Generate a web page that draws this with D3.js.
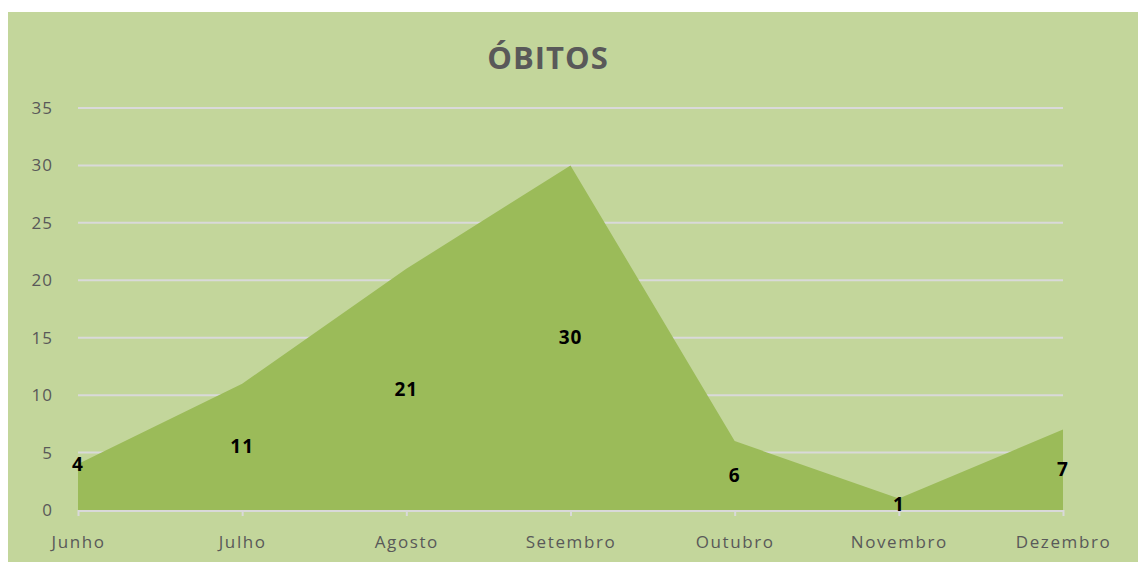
<!DOCTYPE html>
<html>
<head>
<meta charset="utf-8">
<script src="https://cdn.jsdelivr.net/npm/d3@7"></script>
<style>
  body { margin: 0; background: #ffffff; }
  text { font-family: "Open Sans", "Noto Sans", sans-serif; }
</style>
</head>
<body>
<div id="chart"></div>
<script>
const width = 1138;
const height = 563;
const margin = { top: 108, right: 75, bottom: 53, left: 78 };

const months = ["Junho", "Julho", "Agosto", "Setembro", "Outubro", "Novembro", "Dezembro"];
const obitos = [4, 11, 21, 30, 6, 1, 7];
const yTicks = [0, 5, 10, 15, 20, 25, 30, 35];

const svg = d3.select("#chart")
  .append("svg")
  .attr("width", width)
  .attr("height", height);

// chart background
svg.append("rect")
  .attr("x", 8)
  .attr("y", 12)
  .attr("width", width - 8)
  .attr("height", height - 13)
  .attr("fill", "#c3d69b");

const xScale = d3.scalePoint()
  .domain(months)
  .range([margin.left, width - margin.right]);

const yScale = d3.scaleLinear()
  .domain([0, 35])
  .range([height - margin.bottom, margin.top]);

// gridlines
svg.append("g")
  .selectAll("line")
  .data(yTicks.slice(1))
  .enter()
  .append("line")
  .attr("x1", margin.left)
  .attr("x2", width - margin.right)
  .attr("y1", d => yScale(d))
  .attr("y2", d => yScale(d))
  .attr("stroke", "#d9d9d9")
  .attr("stroke-width", 2);

// area
const area = d3.area()
  .x((d, i) => xScale(months[i]))
  .y0(yScale(0))
  .y1(d => yScale(d));

svg.append("path")
  .datum(obitos)
  .attr("d", area)
  .attr("fill", "#9bbb59");

// x axis line + ticks
const xAxis = svg.append("g")
  .attr("transform", `translate(0, ${yScale(0)})`)
  .call(d3.axisBottom(xScale).tickSize(6).tickPadding(20));
xAxis.select(".domain").attr("stroke", "#d9d9d9").attr("stroke-width", 2)
  .attr("d", `M${margin.left},1H${width - margin.right}`);
xAxis.selectAll(".tick line").attr("stroke", "#d9d9d9").attr("stroke-width", 2);
xAxis.selectAll(".tick text")
  .attr("fill", "#595959")
  .style("font-size", "17px")
  .style("letter-spacing", "1.6px");

// y axis labels
svg.append("g")
  .selectAll("text")
  .data(yTicks)
  .enter()
  .append("text")
  .attr("x", 53)
  .attr("y", d => yScale(d))
  .attr("dy", "0.35em")
  .attr("text-anchor", "end")
  .attr("fill", "#595959")
  .style("font-size", "17px")
  .style("letter-spacing", "1px")
  .text(d => d);

// data labels (first one sits higher, as in the source)
svg.append("g")
  .selectAll("text")
  .data(obitos)
  .enter()
  .append("text")
  .attr("x", (d, i) => xScale(months[i]))
  .attr("y", (d, i) => i === 0 ? yScale(d) : yScale(d / 2))
  .attr("dy", "0.35em")
  .attr("text-anchor", "middle")
  .attr("font-weight", "bold")
  .attr("fill", "#000000")
  .style("font-size", "19px")
  .style("letter-spacing", "1px")
  .text(d => d);

// title
svg.append("text")
  .attr("x", 548)
  .attr("y", 69)
  .attr("text-anchor", "middle")
  .attr("font-weight", "bold")
  .attr("fill", "#595959")
  .style("font-size", "31px")
  .style("letter-spacing", "1px")
  .text("ÓBITOS");
</script>
</body>
</html>
